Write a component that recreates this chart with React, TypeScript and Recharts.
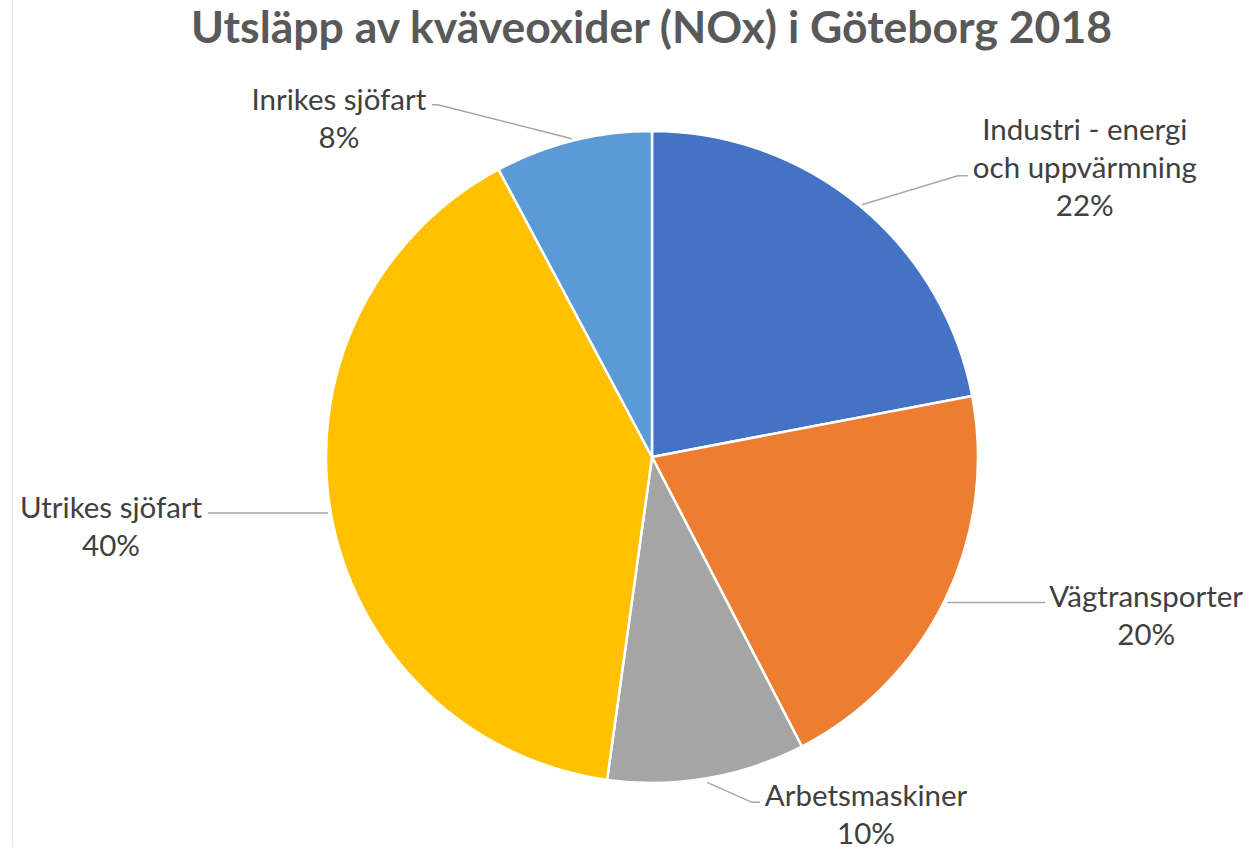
import { PieChart, Pie, Cell } from 'recharts';

const categories = [
  'Industri - energi\noch uppvärmning',
  'Vägtransporter',
  'Arbetsmaskiner',
  'Utrikes sjöfart',
  'Inrikes sjöfart',
];
const shares = [22.0, 20.4, 9.8, 40.0, 7.8];
const colors = ['#4472C4', '#ED7D31', '#A5A5A5', '#FFC000', '#5B9BD5'];

const data = categories.map((name, i) => ({ name, value: shares[i] }));

// where each label sits, relative to the point where its slice's middle meets the rim
const labelLayout = [
  { tx: 225, ty: -66, leader: [[2, -1], [98, -30], [108, -30]] },
  { tx: 201, ty: 8, leader: [[2, 3], [100, 3]] },
  { tx: 159, ty: 28, leader: [[0, 4], [45, 24], [53, 24]] },
  { tx: -220, ty: 4, leader: [[-3, -1], [-123, -1]] },
  { tx: -234, ty: -31, leader: [[-1, -2], [-135, -36], [-141, -36]] },
];

const RAD = Math.PI / 180;
const FONT = 'Lato, "Open Sans", sans-serif';

function renderLabel(props: any) {
  const { cx, cy, midAngle, outerRadius, index, percent, name } = props;
  const ex = cx + outerRadius * Math.cos(-midAngle * RAD);
  const ey = cy + outerRadius * Math.sin(-midAngle * RAD);
  const lay = labelLayout[index];
  const lines = String(name).split('\n');
  lines.push(`${Math.round(percent * 100)}%`);
  const pts = lay.leader.map(([dx, dy]) => `${ex + dx},${ey + dy}`).join(' ');
  return (
    <g key={`lbl-${index}`}>
      <polyline points={pts} fill="none" stroke="#A6A6A6" strokeWidth={1.5} />
      <text
        x={ex + lay.tx}
        y={ey + lay.ty}
        textAnchor="middle"
        fill="#404040"
        fontSize={29.5}
        fontFamily={FONT}
      >
        {lines.map((l, i) => (
          <tspan key={i} x={ex + lay.tx} dy={i === 0 ? 0 : 38}>
            {l}
          </tspan>
        ))}
      </text>
    </g>
  );
}

export default function App() {
  return (
    <div
      style={{
        position: 'absolute',
        left: 0,
        top: 0,
        width: 1251,
        height: 847,
        background: '#fff',
        overflow: 'hidden',
      }}
    >
      <div
        style={{
          position: 'absolute',
          left: 12,
          top: 0,
          width: 1,
          height: 847,
          background: '#e8e8e8',
        }}
      />
      <svg
        width={1251}
        height={60}
        style={{ position: 'absolute', left: 0, top: 0 }}
      >
        <text
          x={651.5}
          y={43}
          textAnchor="middle"
          fontFamily={FONT}
          fontWeight={700}
          fontSize={44.5}
          fill="#595959"
        >
          Utsläpp av kväveoxider (NOx) i Göteborg 2018
        </text>
      </svg>
      <PieChart
        width={1251}
        height={847}
        margin={{ top: 0, right: 0, bottom: 0, left: 0 }}
      >
        <Pie
          data={data}
          dataKey="value"
          nameKey="name"
          cx={652}
          cy={457}
          outerRadius={326}
          startAngle={90}
          endAngle={-270}
          stroke="#fff"
          strokeWidth={2.5}
          label={renderLabel}
          labelLine={false}
          isAnimationActive={false}
        >
          {data.map((d, i) => (
            <Cell key={d.name} fill={colors[i]} />
          ))}
        </Pie>
      </PieChart>
    </div>
  );
}
